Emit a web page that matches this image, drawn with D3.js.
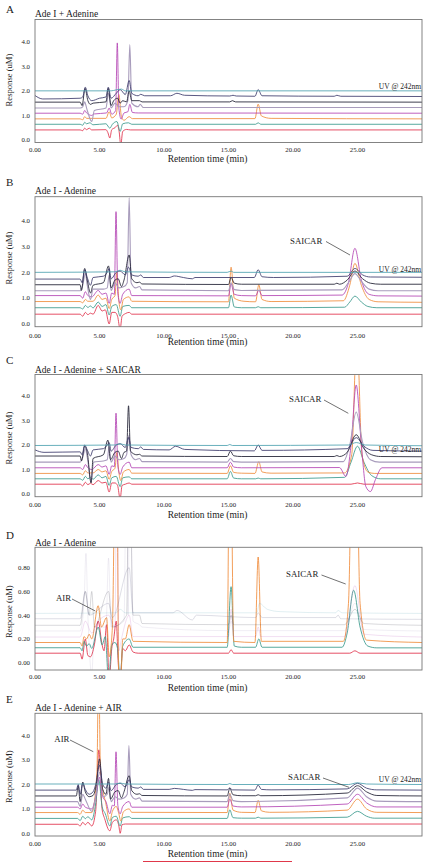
<!DOCTYPE html>
<html><head><meta charset="utf-8">
<script src="https://cdn.jsdelivr.net/npm/d3@7"></script>
<style>body{margin:0;background:#fff} svg{display:block} text{font-family:"Liberation Serif","Times New Roman",serif;fill:#222}</style>
</head><body><svg id="c" width="427" height="863"></svg>
<script>
// ---------------- data ----------------
const xTicks=[0,5,10,15,20,25];
const yTicksMain=[0,1,2,3,4];
const yTicksD=[0,0.2,0.4,0.6,0.8];
const traceNames=["red","teal","orange","magenta","lavender","navy","slate","topteal"];
const traceColors=["#e0304a","#3a9a8c","#f08c3c","#b444b4","#a89cbc","#1e1e30","#3c3a6c","#4ea2b0"];
const panelLetters=["A","B","C","D","E"];
const panelTitles=["Ade I + Adenine","Ade I - Adenine","Ade I - Adenine + SAICAR","Ade I - Adenine","Ade I - Adenine + AIR"];

const tracesA=[
 [[0,0.41],[3.5,0.41],[3.7,0.38],[3.85,0.48],[4.0,0.42],[4.2,0.48],[4.4,0.41],[5.5,0.42],[5.65,0.3],[5.8,0.08],[5.95,0.42],[6.2,0.5],[6.4,0.6],[6.52,0.35],[6.65,-0.2],[6.8,0.35],[7.1,0.43],[7.4,0.41],[30,0.41]],
 [[0,0.64],[3.5,0.64],[3.7,0.6],[3.85,0.72],[4.0,0.66],[4.25,0.7],[4.5,0.62],[5.5,0.66],[5.8,0.48],[6.0,0.64],[6.35,0.75],[6.6,0.35],[6.8,0.66],[7.25,0.7],[7.5,0.64],[17.1,0.64],[17.3,0.7],[17.5,0.64],[30,0.64]],
 [[0,0.86],[3.5,0.86],[3.7,0.82],[3.85,0.95],[4.0,0.88],[5.5,0.88],[5.75,1.15],[5.95,0.9],[6.3,1.05],[6.5,1.85],[6.7,0.95],[6.9,0.8],[7.3,0.95],[7.55,0.87],[17.05,0.87],[17.3,1.46],[17.55,0.98],[18.3,0.88],[30,0.86]],
 [[0,1.09],[3.5,1.09],[3.7,1.05],[3.85,1.2],[4.0,1.1],[4.4,1.0],[4.6,1.06],[5.55,1.1],[5.75,1.3],[5.95,1.05],[6.25,1.2],[6.38,3.95],[6.5,1.3],[6.68,0.85],[6.9,1.1],[7.2,1.15],[7.35,1.45],[7.55,1.12],[8.0,1.1],[30,1.09]],
 [[0,1.3],[3.5,1.3],[3.7,1.35],[3.85,1.55],[4.0,1.3],[4.4,0.75],[4.6,1.2],[5.5,1.3],[5.7,1.9],[5.9,1.3],[6.2,1.5],[6.5,1.35],[6.9,1.35],[7.2,1.6],[7.35,3.88],[7.5,1.5],[8.0,1.35],[8.15,1.45],[8.4,1.32],[30,1.32]],
 [[0,1.54],[3.5,1.54],[3.65,1.4],[3.88,2.1],[4.1,1.6],[4.3,1.45],[4.5,1.5],[5.5,1.55],[5.68,2.1],[5.9,1.4],[6.1,1.6],[6.4,1.7],[6.6,1.5],[6.8,1.6],[7.1,1.55],[7.3,2.0],[7.5,1.6],[8.1,1.6],[8.3,1.55],[15.1,1.55],[15.3,1.6],[15.55,1.55],[30,1.54]],
 [[0,1.81],[0.6,1.67],[3.5,1.7],[3.7,1.75],[3.9,2.15],[4.1,1.8],[4.4,1.6],[5.0,1.7],[5.5,1.75],[5.68,2.15],[5.9,1.7],[6.3,1.9],[6.6,2.05],[7.0,1.85],[7.3,2.42],[7.5,1.9],[8.0,1.8],[8.2,1.86],[8.5,1.8],[10.5,1.8],[11.0,1.9],[11.6,1.82],[15.1,1.79],[15.35,1.82],[15.6,1.79],[17.05,1.78],[17.3,2.05],[17.6,1.8],[23.2,1.78],[23.4,1.82],[23.7,1.78],[30,1.77]],
 [[0,2.0],[5.9,2.0],[6.3,2.04],[6.7,2.07],[7.0,2.0],[30,2.0]]
];
const tracesB=[
 [[0,0.38],[3.5,0.38],[3.7,0.3],[3.9,0.45],[4.1,0.36],[4.3,0.42],[4.5,0.38],[4.9,0.72],[5.2,0.5],[5.45,0.55],[5.75,0.0],[5.95,0.45],[6.2,0.45],[6.4,0.3],[6.6,-0.2],[6.75,0.3],[7.0,0.4],[7.3,0.45],[7.5,0.38],[30,0.38]],
 [[0,0.63],[3.5,0.63],[3.7,0.58],[3.9,0.72],[4.1,0.64],[4.3,0.7],[4.5,0.62],[4.9,0.85],[5.2,0.68],[5.5,0.75],[5.75,0.35],[5.95,0.68],[6.3,0.75],[6.6,0.3],[6.8,0.68],[7.3,0.72],[7.5,0.63],[15.0,0.63],[15.2,1.12],[15.45,0.66],[16,0.63],[17.1,0.63],[17.3,0.67],[17.5,0.63],[24.0,0.65],[24.4,0.85],[24.8,1.08],[25.3,0.85],[25.8,0.68],[26.5,0.63],[30,0.63]],
 [[0,0.87],[3.5,0.87],[3.7,0.82],[3.9,0.95],[4.1,0.88],[4.5,0.88],[4.9,1.12],[5.2,0.95],[5.5,1.0],[5.75,0.6],[5.95,0.95],[6.2,1.1],[6.35,2.0],[6.5,0.9],[6.65,0.55],[6.85,0.95],[7.3,1.05],[7.5,0.88],[15.0,0.86],[15.2,2.2],[15.45,1.0],[16.2,0.88],[17.1,0.86],[17.35,1.52],[17.6,0.95],[18.3,0.87],[23.9,0.9],[24.4,1.5],[24.8,2.35],[25.3,1.5],[25.9,0.95],[26.6,0.86],[30,0.84]],
 [[0,1.1],[3.5,1.1],[3.7,1.0],[3.9,1.25],[4.1,1.1],[4.4,1.05],[4.9,1.3],[5.2,1.15],[5.5,1.2],[5.75,0.8],[5.95,1.2],[6.15,1.15],[6.28,4.35],[6.42,1.2],[6.6,0.8],[6.8,1.15],[7.3,1.35],[7.5,1.1],[15.0,1.09],[15.2,1.55],[15.45,1.15],[16,1.1],[17.1,1.09],[17.35,1.3],[17.6,1.1],[23.8,1.12],[24.3,1.6],[24.8,2.93],[25.3,1.7],[25.9,1.15],[26.6,1.09],[30,1.08]],
 [[0,1.29],[3.5,1.29],[3.7,1.5],[3.9,1.95],[4.05,1.5],[4.3,0.95],[4.5,1.35],[5.3,1.35],[5.6,1.4],[5.75,1.9],[5.9,1.3],[6.2,1.6],[6.5,1.4],[6.9,1.45],[7.15,1.6],[7.3,4.9],[7.45,1.6],[7.8,1.4],[8.1,1.45],[8.3,1.32],[15.0,1.29],[15.2,1.6],[15.45,1.33],[16,1.3],[23.8,1.32],[24.3,1.6],[24.8,1.95],[25.3,1.65],[25.9,1.35],[26.6,1.29],[30,1.29]],
 [[0,1.52],[3.5,1.52],[3.6,1.3],[3.85,2.15],[4.05,1.7],[4.3,1.2],[4.5,1.5],[5.3,1.6],[5.7,2.25],[5.9,1.4],[6.2,1.7],[6.45,1.75],[6.7,1.45],[6.9,1.7],[7.3,2.67],[7.5,1.75],[7.9,1.6],[8.1,1.62],[8.3,1.55],[15.0,1.53],[15.2,1.8],[15.45,1.58],[16,1.54],[23.2,1.54],[23.4,1.58],[23.6,1.54],[24.2,1.7],[24.8,2.05],[25.4,1.75],[26,1.58],[26.8,1.54],[30,1.54]],
 [[0,1.74],[3.5,1.74],[3.65,1.6],[3.85,2.1],[4.05,1.8],[4.3,1.5],[4.5,1.8],[5.3,1.85],[5.6,2.0],[5.75,2.15],[5.9,1.75],[6.3,2.0],[6.6,2.05],[7.0,1.9],[7.25,2.2],[7.5,1.9],[8.0,1.85],[8.2,1.9],[8.4,1.8],[10.4,1.8],[10.8,1.86],[11.5,1.8],[12.2,1.75],[12.4,1.8],[17.0,1.8],[17.3,2.1],[17.6,1.83],[18.5,1.8],[24.2,1.85],[24.8,2.15],[25.4,1.9],[26,1.82],[30,1.81]],
 [[0,2.0],[6.2,2.02],[6.6,2.08],[7.0,2.02],[14.9,2.0],[15.2,2.05],[15.4,2.0],[30,2.0]]
];
const tracesC=[
 [[0,0.4],[3.5,0.4],[3.7,0.33],[3.9,0.48],[4.1,0.38],[4.3,0.44],[4.5,0.38],[4.9,0.55],[5.2,0.45],[5.5,0.48],[5.75,0.08],[5.95,0.45],[6.2,0.45],[6.4,0.35],[6.6,-0.2],[6.75,0.35],[7.0,0.4],[7.3,0.45],[7.5,0.4],[24.5,0.4],[25.0,0.45],[25.5,0.4],[30,0.4]],
 [[0,0.62],[3.5,0.62],[3.7,0.56],[3.9,0.72],[4.1,0.62],[4.3,0.68],[4.5,0.6],[4.9,0.78],[5.2,0.66],[5.5,0.72],[5.75,0.35],[5.95,0.66],[6.3,0.72],[6.6,0.3],[6.8,0.66],[7.3,0.7],[7.5,0.62],[14.9,0.62],[15.15,0.92],[15.4,0.65],[16,0.62],[17.1,0.62],[17.3,0.65],[17.5,0.62],[24.0,0.68],[24.5,1.3],[25.0,1.95],[25.5,1.3],[26.1,0.75],[26.8,0.62],[30,0.62]],
 [[0,0.84],[3.5,0.84],[3.7,0.78],[3.9,0.95],[4.1,0.86],[4.5,0.86],[4.9,1.0],[5.2,0.9],[5.5,0.95],[5.75,0.6],[5.95,0.92],[6.2,1.05],[6.35,1.7],[6.5,0.9],[6.65,0.55],[6.85,0.9],[7.3,1.0],[7.5,0.85],[14.9,0.84],[15.15,1.15],[15.4,0.88],[16,0.85],[17.05,0.84],[17.35,1.32],[17.6,0.9],[18.3,0.85],[24.0,0.86],[24.55,1.6],[24.95,6.5],[25.35,1.6],[25.8,0.9],[26.3,0.84],[30,0.84]],
 [[0,1.07],[3.5,1.07],[3.7,1.0],[3.9,1.2],[4.1,1.07],[4.4,1.0],[4.9,1.2],[5.2,1.1],[5.5,1.15],[5.75,0.8],[5.95,1.15],[6.15,1.12],[6.28,3.3],[6.42,1.15],[6.6,0.8],[6.8,1.1],[7.3,1.3],[7.5,1.07],[14.9,1.07],[15.15,1.3],[15.4,1.1],[16,1.07],[23.6,1.08],[24.1,0.72],[24.5,2.0],[24.9,4.45],[25.3,2.0],[25.65,0.3],[26.0,0.1],[26.4,0.6],[26.9,1.07],[30,1.07]],
 [[0,1.3],[3.5,1.3],[3.7,1.5],[3.9,1.85],[4.05,1.5],[4.35,0.5],[4.55,1.3],[5.3,1.35],[5.6,1.4],[5.75,1.95],[5.9,1.3],[6.2,1.55],[6.5,1.4],[6.9,1.45],[7.1,1.6],[7.28,2.4],[7.45,1.6],[7.8,1.4],[8.1,1.45],[8.3,1.32],[14.9,1.3],[15.15,1.45],[15.4,1.32],[16,1.3],[23.9,1.32],[24.4,2.0],[24.9,3.35],[25.4,2.1],[26.0,1.4],[26.7,1.3],[30,1.3]],
 [[0,1.55],[3.5,1.55],[3.6,1.35],[3.85,1.95],[4.05,1.7],[4.35,0.45],[4.5,1.45],[5.3,1.6],[5.65,2.2],[5.85,1.4],[6.2,1.7],[6.45,1.75],[6.7,1.45],[6.9,1.7],[7.1,1.75],[7.25,3.6],[7.4,1.75],[7.9,1.6],[8.1,1.62],[8.3,1.55],[14.9,1.53],[15.15,1.75],[15.4,1.56],[16,1.53],[23.2,1.53],[23.4,1.57],[23.6,1.53],[24.2,1.7],[24.9,2.42],[25.5,1.85],[26.1,1.6],[26.8,1.53],[30,1.52]],
 [[0,1.8],[0.7,1.7],[3.5,1.72],[3.65,1.6],[3.85,2.0],[4.05,1.8],[4.3,1.55],[4.5,1.8],[5.3,1.85],[5.6,2.0],[5.75,2.1],[5.9,1.75],[6.3,2.0],[6.6,2.05],[7.0,1.9],[7.25,2.3],[7.45,1.9],[8.0,1.85],[8.2,1.92],[8.4,1.82],[10.4,1.8],[10.9,1.95],[11.6,1.82],[17.0,1.76],[17.3,2.0],[17.6,1.78],[24.2,1.85],[24.9,2.3],[25.5,1.95],[26.2,1.78],[30,1.75]],
 [[0,1.98],[6.2,2.0],[6.6,2.05],[7.0,2.0],[14.9,1.98],[15.1,2.02],[15.3,1.98],[24.3,2.0],[24.9,2.1],[25.6,2.0],[30,1.97]]
];
const tracesD=[
 [[0,0.08],[3.5,0.08],[3.65,0.03],[3.9,0.2],[4.1,0.06],[4.3,0.05],[4.6,0.15],[4.9,0.35],[5.2,0.15],[5.35,0.1],[5.55,0.32],[5.75,-0.15],[5.95,0.12],[6.1,0.2],[6.3,0.35],[6.45,0.0],[6.6,-0.15],[6.8,0.12],[7.0,0.1],[7.3,0.15],[7.6,0.09],[8,0.08],[15.0,0.08],[15.2,0.11],[15.4,0.08],[24.4,0.08],[24.8,0.1],[25.2,0.08],[30,0.08]],
 [[0,0.126],[3.5,0.126],[3.65,0.1],[3.8,0.18],[4.0,0.14],[4.2,0.16],[4.4,0.12],[4.9,0.3],[5.2,0.15],[5.45,0.22],[5.7,-0.15],[5.95,0.15],[6.2,0.17],[6.4,0.12],[6.6,-0.15],[6.8,0.14],[7.3,0.2],[7.6,0.13],[14.9,0.13],[15.2,0.64],[15.45,0.14],[16,0.13],[17.1,0.13],[17.35,0.2],[17.6,0.13],[23.8,0.13],[24.2,0.25],[24.7,0.61],[25.2,0.3],[25.8,0.14],[26.5,0.125],[30,0.125]],
 [[0,0.17],[3.5,0.17],[3.65,0.14],[3.8,0.22],[4.0,0.2],[4.2,0.24],[4.4,0.2],[4.9,0.48],[5.15,0.3],[5.55,0.38],[5.75,0.05],[6.0,0.3],[6.3,2.5],[6.5,-0.15],[6.65,-0.15],[6.8,0.2],[7.0,0.2],[7.3,0.32],[7.6,0.18],[14.9,0.17],[15.12,2.5],[15.4,0.18],[17.05,0.17],[17.3,0.89],[17.55,0.18],[23.9,0.18],[24.3,0.5],[24.75,3.0],[25.2,0.5],[25.7,0.19],[30,0.17]],
 [[0,0.216],[3.5,0.216],[3.9,0.35],[4.4,0.25],[4.9,0.35],[5.7,0.4],[6.2,0.3],[6.35,2.0],[6.5,0.1],[6.7,0.2],[7.3,0.4],[7.6,0.22],[15.0,0.22],[15.2,0.45],[15.4,0.22],[17.1,0.22],[17.3,0.3],[17.5,0.22],[24.0,0.22],[24.8,0.65],[25.5,0.24],[30,0.216]],
 [[0,0.267],[3.5,0.267],[3.8,0.5],[3.95,0.92],[4.1,0.4],[4.4,-0.1],[4.6,0.3],[5.5,0.3],[5.7,0.88],[5.9,0.3],[6.9,0.35],[7.1,2.0],[7.22,0.4],[7.35,2.0],[7.6,0.35],[8.1,0.32],[8.3,0.3],[15.0,0.27],[15.2,0.35],[15.4,0.27],[24.0,0.27],[24.8,0.5],[25.5,0.28],[30,0.267]],
 [[0,0.315],[3.5,0.315],[3.9,0.6],[4.2,0.4],[4.4,0.6],[4.6,0.3],[5.7,0.6],[6.0,0.3],[7.1,0.4],[7.3,2.0],[7.6,0.4],[8.1,0.4],[8.3,0.33],[15.0,0.32],[15.2,0.4],[15.4,0.32],[24.0,0.32],[24.8,0.45],[25.5,0.33],[30,0.315]],
 [[0,0.37],[3.5,0.37],[3.9,0.6],[4.2,0.4],[5.7,0.5],[6.0,0.38],[7.3,0.8],[7.6,0.42],[10.7,0.42],[11.0,0.44],[12.2,0.36],[12.5,0.4],[17.1,0.38],[17.3,0.42],[17.6,0.38],[23.3,0.38],[23.5,0.4],[23.7,0.37],[30,0.365]],
 [[0,0.415],[6.3,0.42],[6.6,0.45],[7,0.42],[17.2,0.42],[17.4,0.5],[18,0.45],[19,0.43],[23.3,0.42],[23.5,0.44],[23.8,0.42],[30,0.415]]
];
const tracesE=[
 [[0,0.37],[3.3,0.37],[3.5,0.3],[3.7,0.45],[3.9,0.35],[4.1,0.45],[4.4,0.3],[4.7,0.9],[4.95,3.42],[5.2,1.0],[5.4,0.6],[5.8,0.1],[6.0,0.45],[6.3,0.55],[6.5,0.3],[6.6,0.0],[6.75,0.35],[7.0,0.38],[30,0.38]],
 [[0,0.61],[3.3,0.61],[3.5,0.52],[3.7,0.7],[3.9,0.6],[4.1,0.68],[4.4,0.55],[4.7,1.2],[4.95,2.2],[5.2,1.1],[5.45,0.8],[5.8,0.3],[6.0,0.65],[6.3,0.7],[6.6,0.3],[6.8,0.63],[7.3,0.68],[7.5,0.61],[14.9,0.61],[15.1,0.96],[15.35,0.64],[16,0.62],[17.1,0.62],[17.3,0.66],[17.5,0.62],[24.2,0.66],[25.0,0.9],[25.7,0.7],[26.3,0.62],[30,0.62]],
 [[0,0.85],[3.3,0.85],[3.5,0.78],[3.7,0.95],[3.9,0.85],[4.4,0.85],[4.8,2.5],[4.93,7],[5.08,2.5],[5.5,1.2],[5.8,0.5],[6.0,0.9],[6.3,1.1],[6.5,0.8],[6.65,0.5],[6.85,0.88],[7.3,1.0],[7.5,0.86],[14.9,0.85],[15.1,1.64],[15.35,0.95],[16,0.86],[17.05,0.85],[17.3,1.35],[17.55,0.92],[18.2,0.86],[24.2,0.95],[25.0,1.4],[25.7,1.0],[26.5,0.86],[30,0.85]],
 [[0,1.07],[3.3,1.07],[3.5,1.0],[3.7,1.2],[3.9,1.07],[4.4,1.0],[4.75,1.6],[5.0,2.3],[5.25,1.5],[5.5,1.3],[5.8,0.8],[6.0,1.15],[6.15,1.12],[6.28,3.34],[6.42,1.15],[6.6,0.8],[6.8,1.1],[7.3,1.3],[7.5,1.07],[14.9,1.07],[15.1,1.4],[15.35,1.12],[16,1.08],[24.2,1.2],[25.0,1.6],[25.7,1.25],[26.5,1.08],[30,1.08]],
 [[0,1.3],[3.3,1.3],[3.5,1.1],[3.7,1.6],[3.9,1.4],[4.4,0.9],[4.7,1.5],[5.0,2.5],[5.3,1.5],[5.6,1.6],[5.75,1.9],[5.9,1.3],[6.2,1.5],[6.5,1.4],[6.9,1.45],[7.15,1.6],[7.28,3.6],[7.42,1.6],[7.8,1.4],[8.1,1.45],[8.3,1.32],[14.9,1.3],[15.1,1.6],[15.35,1.34],[16,1.3],[24.2,1.45],[25.0,1.85],[25.7,1.5],[26.5,1.32],[30,1.3]],
 [[0,1.53],[3.2,1.53],[3.35,1.95],[3.5,1.3],[3.7,2.1],[3.9,1.7],[4.2,1.5],[4.5,1.55],[4.75,2.0],[5.0,3.05],[5.25,1.8],[5.5,1.6],[5.7,2.25],[5.85,1.4],[6.2,1.7],[6.45,1.75],[6.7,1.45],[6.9,1.7],[7.3,2.36],[7.5,1.75],[7.9,1.6],[8.1,1.62],[8.3,1.55],[14.9,1.53],[15.1,1.85],[15.35,1.58],[16,1.54],[17.1,1.54],[17.3,1.58],[17.5,1.54],[24.2,1.65],[25.0,1.95],[25.7,1.7],[26.5,1.55],[30,1.53]],
 [[0,1.77],[3.2,1.77],[3.35,2.0],[3.5,1.6],[3.7,2.05],[3.9,1.8],[4.2,1.6],[4.5,1.7],[4.75,2.1],[5.0,2.8],[5.25,2.0],[5.5,1.85],[5.7,2.1],[5.9,1.75],[6.3,2.0],[6.6,2.05],[7.0,1.9],[7.3,2.2],[7.5,1.9],[8.0,1.85],[8.2,1.9],[8.4,1.8],[10.4,1.8],[10.8,1.84],[11.5,1.8],[12.2,1.76],[12.4,1.79],[14.9,1.78],[15.1,1.86],[15.3,1.78],[17.05,1.77],[17.3,1.98],[17.55,1.8],[18.3,1.78],[24.2,1.82],[25.0,2.05],[25.7,1.85],[26.5,1.78],[30,1.77]],
 [[0,2.02],[6.2,2.02],[6.6,2.06],[7.0,2.02],[14.9,2.0],[15.1,2.04],[15.3,2.0],[24.3,2.0],[25.0,2.07],[25.7,2.02],[30,2.0]]
];
const panelTraces=[tracesA,tracesB,tracesC,tracesD,tracesE];

// ---------------- layout ----------------
const X0=35, X1=422;
const layout=[
 {letterY:13, titleY:17, top:19.5, bottom:142.5, zeroY:140, refVal:4, refY:41.7, tickY:151.5, xlabY:162, ylabY:80, uvY:88.5, ticks:yTicksMain, fmt:d3.format(".1f")},
 {letterY:186, titleY:194, top:196.7, bottom:326.7, zeroY:324, refVal:4, refY:220.7, tickY:337.5, xlabY:345, ylabY:258, uvY:271.5, ticks:yTicksMain, fmt:d3.format(".1f")},
 {letterY:364, titleY:373, top:374.5, bottom:496.7, zeroY:494, refVal:4, refY:396, tickY:506.5, xlabY:517.5, ylabY:438, uvY:451.5, ticks:yTicksMain, fmt:d3.format(".1f")},
 {letterY:539, titleY:545.5, top:547.3, bottom:670, zeroY:662.7, refVal:0.8, refY:567.7, tickY:679, xlabY:691, ylabY:611.7, uvY:null, ticks:yTicksD, fmt:d3.format(".2f"), faded:true},
 {letterY:703, titleY:711, top:713.3, bottom:836, zeroY:833.3, refVal:4, refY:735.7, tickY:846, xlabY:857, ylabY:776.7, uvY:781.5, ticks:yTicksMain, fmt:d3.format(".1f")}
];
const notes=[
 {p:1, text:"SAICAR", x:290, y:243.5, l:[326,241.5,350,255]},
 {p:2, text:"SAICAR", x:289, y:402, l:[324,400,348.3,413.3]},
 {p:3, text:"SAICAR", x:286, y:577, l:[321.5,575,345.7,584]},
 {p:3, text:"AIR", x:56, y:601, l:[72,599,95.3,611]},
 {p:4, text:"AIR", x:54.3, y:742, l:[70,740,93.3,751.7]},
 {p:4, text:"SAICAR", x:288, y:779.5, l:[323,778,349,787.3]}
];

const svg=d3.select("#c");
const x=d3.scaleLinear().domain([0,30]).range([X0,X1]);

layout.forEach((L,i)=>{
  const g=svg.append("g");
  const y=d3.scaleLinear().domain([0,L.refVal]).range([L.zeroY,L.refY]);
  const cid="clip"+i;
  svg.append("clipPath").attr("id",cid).append("rect")
    .attr("x",X0).attr("y",L.top).attr("width",X1-X0).attr("height",L.bottom-L.top);
  g.append("text").attr("x",6).attr("y",L.letterY).attr("font-size",11).text(panelLetters[i]);
  g.append("text").attr("x",X0).attr("y",L.titleY).attr("font-size",9.5).text(panelTitles[i]);
  const line=d3.line().x(d=>x(d[0])).y(d=>y(d[1])).curve(d3.curveMonotoneX);
  const lg=g.append("g").attr("clip-path",`url(#${cid})`);
  panelTraces[i].forEach((pts,k)=>{
    const fadedTrace=L.faded && k>2;
    lg.append("path").attr("d",line(pts)).attr("fill","none")
      .attr("stroke",traceColors[k])
      .attr("stroke-opacity",fadedTrace?0.2:1)
      .attr("stroke-width",k===4&&!L.faded?1.1:0.85)
      .attr("stroke-linejoin","round");
  });
  g.append("rect").attr("x",X0).attr("y",L.top).attr("width",X1-X0).attr("height",L.bottom-L.top)
    .attr("fill","none").attr("stroke","#777").attr("stroke-width",0.9);
  g.selectAll(".xt").data(xTicks).enter().append("text")
    .attr("x",d=>x(d)).attr("y",L.tickY).attr("text-anchor","middle").attr("font-size",6.8)
    .text(d=>d3.format(".2f")(d));
  g.selectAll(".yt").data(L.ticks).enter().append("text")
    .attr("x",30).attr("y",d=>y(d)+2.3).attr("text-anchor","end").attr("font-size",6.8)
    .text(d=>L.fmt(d));
  g.append("text").attr("x",207.5).attr("y",L.xlabY).attr("text-anchor","middle").attr("font-size",9.5)
    .text("Retention time (min)");
  g.append("text").attr("transform",`translate(11.5,${L.ylabY}) rotate(-90)`).attr("text-anchor","middle")
    .attr("font-size",8.6).text("Response (uM)");
  if(L.uvY!==null){
    g.append("text").attr("x",421).attr("y",L.uvY).attr("text-anchor","end").attr("font-size",7.5)
      .text("UV @ 242nm");
  }
});
notes.forEach(n=>{
  svg.append("text").attr("x",n.x).attr("y",n.y).attr("font-size",8.8).text(n.text);
  svg.append("line").attr("x1",n.l[0]).attr("y1",n.l[1]).attr("x2",n.l[2]).attr("y2",n.l[3])
    .attr("stroke","#333").attr("stroke-width",0.7);
});
svg.append("line").attr("x1",143).attr("y1",861.5).attr("x2",292).attr("y2",861.5)
  .attr("stroke","#e0384a").attr("stroke-width",1.2);
</script></body></html>
